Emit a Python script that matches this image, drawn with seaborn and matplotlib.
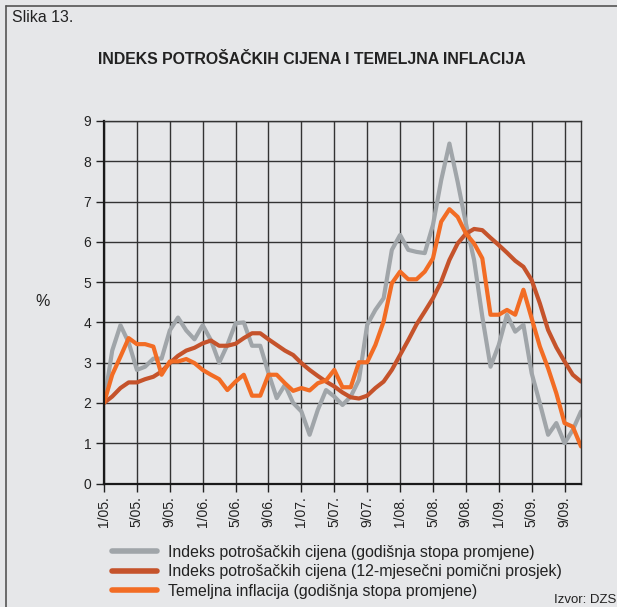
import seaborn as sns
import matplotlib.pyplot as plt
import matplotlib.lines as mlines
import pandas as pd

# -------------------------------------------------------------------
# Slika 13: Indeks potrošačkih cijena i temeljna inflacija (1/05 - 11/09)
# -------------------------------------------------------------------

# monthly values, January 2005 .. November 2009
months = list(range(59))

cpi_annual = [2.0, 3.3, 3.93, 3.5, 2.82, 2.9, 3.1, 3.1, 3.8, 4.12,
              3.8, 3.58, 3.93, 3.56, 3.0, 3.44, 3.98, 4.0, 3.42, 3.42,
              2.74, 2.12, 2.45, 2.0, 1.79, 1.21, 1.83, 2.32, 2.16, 1.95,
              2.16, 2.57, 3.94, 4.31, 4.6, 5.8, 6.17, 5.8, 5.75, 5.72,
              6.42, 7.53, 8.44, 7.49, 6.46, 5.55, 4.14, 2.9, 3.44, 4.19,
              3.77, 3.94, 2.74, 1.99, 1.21, 1.5, 1.0, 1.33, 1.79]

cpi_avg12 = [2.0, 2.16, 2.37, 2.51, 2.51, 2.59, 2.65, 2.78, 2.99, 3.17,
             3.3, 3.37, 3.48, 3.55, 3.42, 3.42, 3.47, 3.61, 3.73, 3.73,
             3.58, 3.44, 3.3, 3.19, 2.99, 2.82, 2.67, 2.53, 2.41, 2.26,
             2.14, 2.11, 2.18, 2.37, 2.53, 2.82, 3.19, 3.56, 3.95, 4.27,
             4.6, 5.01, 5.55, 5.96, 6.2, 6.32, 6.29, 6.1, 5.92, 5.73,
             5.53, 5.38, 5.05, 4.47, 3.81, 3.38, 3.03, 2.7, 2.53]

core_infl = [2.0, 2.7, 3.15, 3.61, 3.46, 3.46, 3.4, 2.7, 3.03, 3.03,
             3.09, 2.99, 2.82, 2.7, 2.59, 2.32, 2.53, 2.7, 2.18, 2.18,
             2.7, 2.7, 2.49, 2.3, 2.37, 2.31, 2.49, 2.56, 2.82, 2.39,
             2.39, 3.01, 3.01, 3.44, 4.02, 4.97, 5.26, 5.07, 5.07, 5.26,
             5.59, 6.5, 6.81, 6.62, 6.21, 5.96, 5.59, 4.19, 4.19, 4.31,
             4.19, 4.81, 4.1, 3.4, 2.86, 2.24, 1.5, 1.41, 0.92]

tick_labels = ["1/05.", "5/05.", "9/05.", "1/06.", "5/06.", "9/06.", "1/07.",
               "5/07.", "9/07.", "1/08.", "5/08.", "9/08.", "1/09.", "5/09.", "9/09."]

series_names = ["Indeks potrošačkih cijena (godišnja stopa promjene)",
                "Indeks potrošačkih cijena (12-mjesečni pomični prosjek)",
                "Temeljna inflacija (godišnja stopa promjene)"]
colors = ["#a0a5a9", "#c5532b", "#f26c24"]

df = pd.DataFrame({
    "month": months * 3,
    "value": cpi_annual + cpi_avg12 + core_infl,
    "series": [series_names[0]] * 59 + [series_names[1]] * 59 + [series_names[2]] * 59,
})

bg = "#e6e7e9"
sns.set_style("white", {"axes.facecolor": bg, "figure.facecolor": bg})
plt.rcParams["font.family"] = ["Liberation Sans", "DejaVu Sans"]
plt.rcParams["text.color"] = "#222222"

fig = plt.figure(figsize=(6.17, 6.07), dpi=100)
ax = fig.add_axes([104 / 617, 1 - 483.5 / 607, 477 / 617, 362.5 / 607])

sns.lineplot(data=df, x="month", y="value", hue="series",
             palette=dict(zip(series_names, colors)), hue_order=series_names,
             linewidth=3, legend=False, ax=ax)

ax.set_xlim(0, 58)
ax.set_ylim(0, 9)
ax.set_xticks(range(0, 57, 4))
ax.set_xticklabels(tick_labels, rotation=90, fontsize=10)
ax.set_yticks(range(10))
ax.set_yticklabels([str(v) for v in range(10)], fontsize=10)
ax.set_xlabel("")
ax.set_ylabel("")
ax.tick_params(axis="both", direction="out", length=6, width=1, color="#222222",
               labelcolor="#222222", pad=3, bottom=True, left=True)

ax.grid(True, color="#333333", linewidth=1.0)
ax.set_axisbelow(True)
for side in ["left", "bottom"]:
    ax.spines[side].set_linewidth(1.6)
    ax.spines[side].set_color("#1a1a1a")
for side in ["top", "right"]:
    ax.spines[side].set_linewidth(1.0)
    ax.spines[side].set_color("#333333")
    ax.spines[side].set_visible(True)

# texts
fig.text(12 / 617, 1 - 18 / 607, "Slika 13.", fontsize=11.4, va="center", ha="left")
fig.text(312 / 617, 1 - 60 / 607, "INDEKS POTROŠAČKIH CIJENA I TEMELJNA INFLACIJA",
         fontsize=11.4, fontweight="bold", va="center", ha="center")
fig.text(43 / 617, 1 - 301 / 607, "%", fontsize=11.5, va="center", ha="center")
fig.text(616 / 617, 1 - 600 / 607, "Izvor: DZS", fontsize=9.5, va="center", ha="right")

# outer frame (left and top edges)
fig.add_artist(mlines.Line2D([5.5 / 617, 5.5 / 617], [0, 1 - 6 / 607],
                             color="#555555", linewidth=1.2, transform=fig.transFigure))
fig.add_artist(mlines.Line2D([5.5 / 617, 1], [1 - 6 / 607, 1 - 6 / 607],
                             color="#555555", linewidth=1.2, transform=fig.transFigure))

# legend
handles = [mlines.Line2D([], [], color=c, linewidth=4) for c in colors]
fig.legend(handles, series_names, loc="upper left",
           bbox_to_anchor=(112 / 617, 1 - 544.5 / 607), frameon=False,
           fontsize=11.4, handlelength=2.85, handletextpad=0.7,
           labelspacing=0.3, borderaxespad=0, borderpad=0)

plt.savefig("out.png", dpi=100, facecolor=bg)
